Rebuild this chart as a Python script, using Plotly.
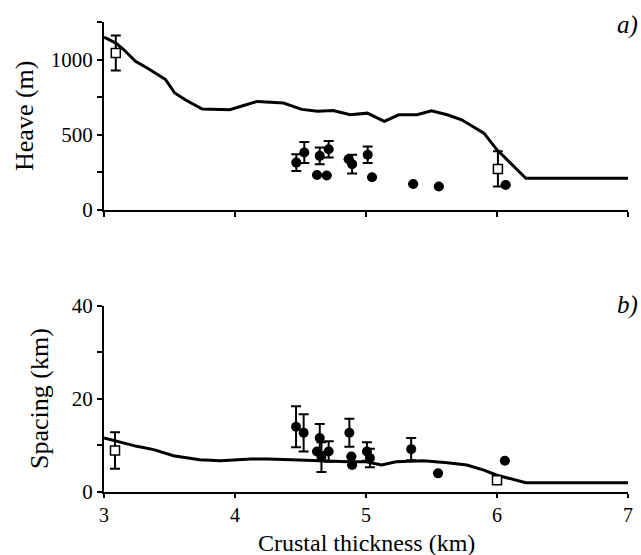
import plotly.graph_objects as go

# ---- data ----
# model curve, heave (m)
heave_line_x = [3.0, 3.09, 3.15, 3.24, 3.33, 3.47, 3.54, 3.62, 3.75, 3.96, 4.06, 4.17, 4.37,
                4.51, 4.63, 4.75, 4.88, 5.01, 5.14, 5.25, 5.39, 5.50, 5.62, 5.73, 5.90, 6.0, 6.22, 7.0]
heave_line_y = [1149, 1110, 1067, 989, 944, 867, 778, 733, 671, 667, 693, 722, 711,
                669, 656, 662, 633, 644, 589, 633, 633, 660, 633, 600, 511, 400, 211, 211]

# observed heave (filled circles)
heave_obs_x = [4.468, 4.529, 4.626, 4.700, 4.647, 4.715, 4.868, 4.894, 5.013, 5.046, 5.360, 5.556, 6.066]
heave_obs_y = [315, 382, 233, 229, 360, 404, 338, 305, 367, 218, 173, 156, 167]
heave_obs_err = [55, 70, 0, 0, 55, 55, 0, 62, 55, 0, 0, 0, 0]

# reference heave (open squares)
heave_ref_x = [3.09, 6.007]
heave_ref_y = [1044, 273]
heave_ref_err = [116, 117]

# model curve, spacing (km)
spacing_line_x = [3.0, 3.09, 3.25, 3.38, 3.53, 3.73, 3.89, 4.12, 4.25, 4.43, 4.6, 4.86, 5.0,
                  5.12, 5.23, 5.44, 5.62, 5.77, 5.90, 6.0, 6.22, 7.0]
spacing_line_y = [11.6, 10.9, 9.8, 9.1, 7.8, 6.9, 6.7, 7.1, 7.1, 6.9, 6.7, 6.5, 6.5,
                  5.8, 6.5, 6.7, 6.3, 5.8, 4.7, 3.6, 2.0, 2.0]

# observed spacing (filled circles)
spacing_obs_x = [4.466, 4.524, 4.647, 4.626, 4.715, 4.660, 4.873, 4.888, 4.894, 5.007, 5.030, 5.345, 5.550, 6.060]
spacing_obs_y = [14.0, 12.7, 11.6, 8.7, 8.7, 7.5, 12.7, 7.6, 5.8, 8.7, 7.3, 9.2, 4.0, 6.7]
spacing_obs_err = [4.4, 4.0, 3.0, 0, 2.2, 3.2, 3.0, 0, 0, 2.0, 2.0, 2.4, 0, 0]

# reference spacing (open squares)
spacing_ref_x = [3.084, 6.0]
spacing_ref_y = [8.9, 2.5]
spacing_ref_err = [3.9, 0]

x_ticks = [3, 4, 5, 6, 7]
FONT = "Liberation Serif"

fig = go.Figure()

def err(arr):
    return dict(type="data", array=arr, visible=True, color="black", thickness=2, width=5)

# top panel
fig.add_trace(go.Scatter(x=heave_line_x, y=heave_line_y, mode="lines",
                         line=dict(color="black", width=3), xaxis="x", yaxis="y"))
fig.add_trace(go.Scatter(x=heave_obs_x, y=heave_obs_y, mode="markers",
                         marker=dict(color="black", size=10, symbol="circle"),
                         error_y=err(heave_obs_err), xaxis="x", yaxis="y"))
fig.add_trace(go.Scatter(x=heave_ref_x, y=heave_ref_y, mode="markers",
                         marker=dict(color="white", size=9, symbol="square",
                                     line=dict(color="black", width=1.5)),
                         error_y=err(heave_ref_err), xaxis="x", yaxis="y"))

# bottom panel
fig.add_trace(go.Scatter(x=spacing_line_x, y=spacing_line_y, mode="lines",
                         line=dict(color="black", width=3), xaxis="x2", yaxis="y2"))
fig.add_trace(go.Scatter(x=spacing_obs_x, y=spacing_obs_y, mode="markers",
                         marker=dict(color="black", size=10, symbol="circle"),
                         error_y=err(spacing_obs_err), xaxis="x2", yaxis="y2"))
fig.add_trace(go.Scatter(x=spacing_ref_x, y=spacing_ref_y, mode="markers",
                         marker=dict(color="white", size=9, symbol="square",
                                     line=dict(color="black", width=1.5)),
                         error_y=err(spacing_ref_err), xaxis="x2", yaxis="y2"))

axis_common = dict(showline=True, linecolor="black", linewidth=2, showgrid=False, zeroline=False,
                   ticks="outside", ticklen=5, tickwidth=1.5, tickcolor="black", automargin=False,
                   tickfont=dict(family=FONT, size=21, color="black"))

fig.update_layout(
    width=641, height=555,
    margin=dict(l=104, r=13, t=22, b=63),
    paper_bgcolor="white", plot_bgcolor="white",
    showlegend=False,
    font=dict(family=FONT, color="black"),
    xaxis=dict(axis_common, domain=[0, 1], range=[3, 7], tickvals=x_ticks, showticklabels=False,
               anchor="y"),
    yaxis=dict(axis_common, domain=[0.6, 1.0], range=[0, 1250], tickvals=[0, 500, 1000],
               minor=dict(tickvals=[250, 750, 1250], ticks="outside", ticklen=5, tickwidth=1.5,
                          tickcolor="black"),
               anchor="x"),
    xaxis2=dict(axis_common, domain=[0, 1], range=[3, 7], tickvals=x_ticks, anchor="y2",
                ticklen=4, tickfont=dict(family=FONT, size=20, color="black")),
    yaxis2=dict(axis_common, domain=[0, 0.3965], range=[0, 40], tickvals=[0, 20, 40],
                minor=dict(tickvals=[10, 30], ticks="outside", ticklen=5, tickwidth=1.5,
                           tickcolor="black"),
                anchor="x2"),
    annotations=[
        dict(text="Crustal thickness (km)", xref="paper", yref="paper", x=0.5, y=-0.1085,
             xanchor="center", yanchor="middle", showarrow=False, borderpad=0,
             font=dict(family=FONT, size=24, color="black")),
        dict(text="Heave (m)", textangle=-90, xref="paper", yref="paper", x=-0.1508, y=0.8,
             xanchor="center", yanchor="middle", showarrow=False,
             font=dict(family=FONT, size=26, color="black")),
        dict(text="Spacing (km)", textangle=-90, xref="paper", yref="paper", x=-0.122, y=0.198,
             xanchor="center", yanchor="middle", showarrow=False,
             font=dict(family=FONT, size=26, color="black")),
        dict(text="<i>a)</i>", xref="paper", yref="paper", x=1.023, y=0.9936,
             xanchor="right", yanchor="middle", showarrow=False,
             font=dict(family=FONT, size=25, color="black")),
        dict(text="<i>b)</i>", xref="paper", yref="paper", x=1.023, y=0.398,
             xanchor="right", yanchor="middle", showarrow=False,
             font=dict(family=FONT, size=25, color="black")),
    ],
)

fig.write_html("out.html")
